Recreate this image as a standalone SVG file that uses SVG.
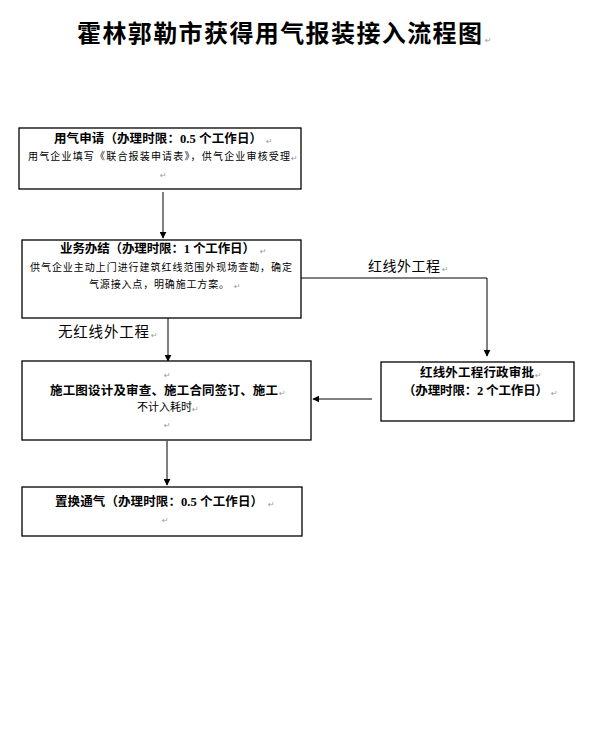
<svg xmlns="http://www.w3.org/2000/svg" width="589" height="737" viewBox="0 0 589 737">
<defs>
<style>
.box{fill:#fff;stroke:#000;stroke-width:1.3}
.ln{fill:none;stroke:#000;stroke-width:1}
.t{font-family:"Noto Sans CJK SC","Noto Sans",sans-serif;fill:#000}
.b{font-weight:bold}
.num{font-family:"Liberation Serif",serif;font-weight:bold}
.pm{font-family:"DejaVu Sans",sans-serif;font-size:8px;fill:#999}
</style>
<marker id="ah" viewBox="0 0 10 10" refX="9" refY="5" markerWidth="7" markerHeight="7" markerUnits="userSpaceOnUse" orient="auto">
<path d="M0,0 L10,5 L0,10 z" fill="#000"/>
</marker>
</defs>
<rect width="589" height="737" fill="#fff"/>

<g id="title">
<text class="t b" x="77" y="42" font-size="24" textLength="405" lengthAdjust="spacing">霍林郭勒市获得用气报装接入流程图</text>
<text class="pm" x="485" y="43">↵</text>
</g>

<g id="connectors">
<line class="ln" x1="163" y1="192" x2="163" y2="238" marker-end="url(#ah)"/>
<line class="ln" x1="168" y1="318" x2="168" y2="361" marker-end="url(#ah)"/>
<polyline class="ln" points="301,278 487,278 487,356" marker-end="url(#ah)"/>
<line class="ln" x1="372" y1="399" x2="313" y2="399" marker-end="url(#ah)"/>
<line class="ln" x1="167" y1="441" x2="167" y2="485" marker-end="url(#ah)"/>
<text class="t" x="368" y="271" font-size="14" textLength="72" lengthAdjust="spacing">红线外工程</text>
<text class="pm" x="442" y="272">↵</text>
<text class="t" x="58" y="337" font-size="14.5" textLength="91" lengthAdjust="spacing">无红线外工程</text>
<text class="pm" x="151" y="338">↵</text>
</g>

<g id="n1">
<rect class="box" x="19" y="128" width="282" height="61"/>
<text class="t b" x="54" y="143" font-size="12.5" textLength="208" lengthAdjust="spacing">用气申请（办理时限：<tspan class="num">0.5 </tspan>个工作日）</text>
<text class="pm" x="266" y="144">↵</text>
<text class="t" x="28" y="160" font-size="10" textLength="262" lengthAdjust="spacing">用气企业填写《联合报装申请表》，供气企业审核受理</text>
<text class="pm" x="291" y="161">↵</text>
<text class="pm" x="160" y="178">↵</text>
</g>

<g id="n2">
<rect class="box" x="22" y="240" width="279" height="78"/>
<text class="t b" x="60" y="253" font-size="12.5" textLength="195" lengthAdjust="spacing">业务办结（办理时限：<tspan class="num">1 </tspan>个工作日）</text>
<text class="pm" x="260" y="254">↵</text>
<text class="t" x="30" y="271" font-size="10" textLength="262" lengthAdjust="spacing">供气企业主动上门进行建筑红线范围外现场查勘，确定</text>
<text class="t" x="89" y="288" font-size="10" textLength="140" lengthAdjust="spacing">气源接入点，明确施工方案。</text>
<text class="pm" x="234" y="289">↵</text>
</g>

<g id="n3">
<rect class="box" x="22" y="361" width="289" height="79"/>
<text class="pm" x="164" y="378">↵</text>
<text class="t b" x="50" y="395" font-size="12.5" textLength="228" lengthAdjust="spacing">施工图设计及审查、施工合同签订、施工</text>
<text class="pm" x="279" y="396">↵</text>
<text class="t" x="137" y="411" font-size="11" textLength="55" lengthAdjust="spacing">不计入耗时</text>
<text class="pm" x="192" y="412">↵</text>
<text class="pm" x="164" y="428">↵</text>
</g>

<g id="n4">
<rect class="box" x="381" y="362" width="193" height="59"/>
<text class="t b" x="420" y="377" font-size="12.5" textLength="114" lengthAdjust="spacing">红线外工程行政审批</text>
<text class="pm" x="535" y="378">↵</text>
<text class="t b" x="403" y="395" font-size="12.5" textLength="145" lengthAdjust="spacing">（办理时限：<tspan class="num">2 </tspan>个工作日）</text>
<text class="pm" x="551" y="396">↵</text>
</g>

<g id="n5">
<rect class="box" x="22" y="487" width="280" height="49"/>
<text class="t b" x="55" y="506" font-size="12.5" textLength="208" lengthAdjust="spacing">置换通气（办理时限：<tspan class="num">0.5 </tspan>个工作日）</text>
<text class="pm" x="268" y="507">↵</text>
<text class="pm" x="162" y="523">↵</text>
</g>
</svg>
